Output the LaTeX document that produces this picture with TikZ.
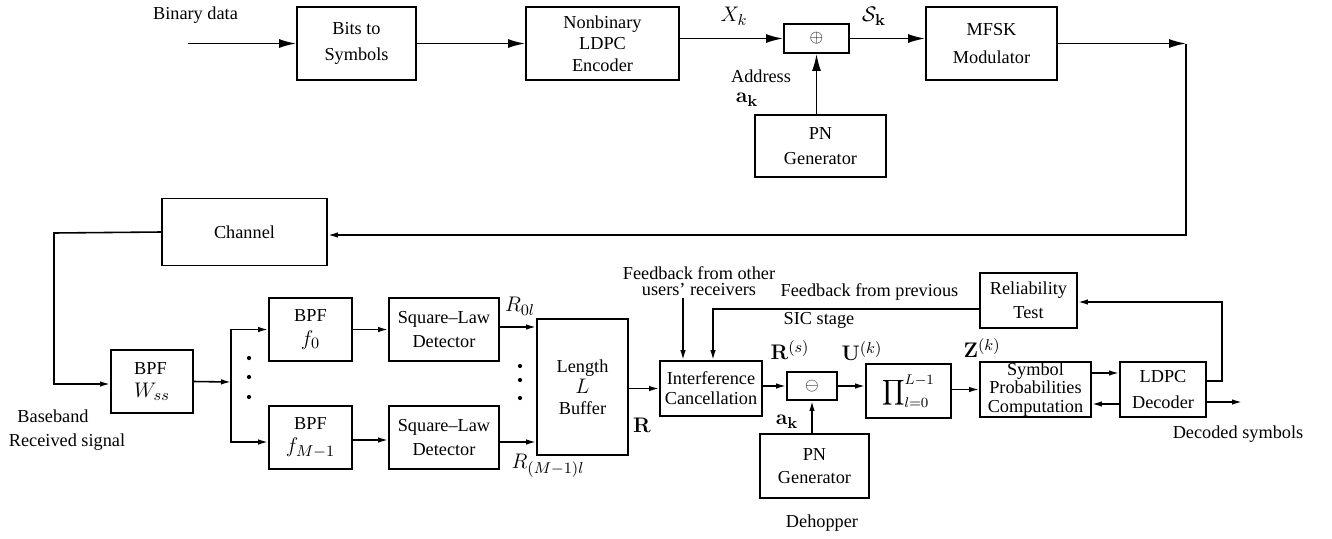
\documentclass[tikz,border=0pt]{standalone}
\usepackage[no-math]{fontspec}
\setmainfont{Liberation Serif}
\usetikzlibrary{arrows.meta}

\newcommand{\boxmath}[1]{{\fontsize{13}{13}\selectfont$#1$}}

\tikzset{
  blk/.style={draw, line width=1.1pt, align=center, inner sep=0pt,
    font=\fontsize{10.4}{13.5}\selectfont},
  arr/.style={line width=0.9pt, -{Latex[length=3.4mm,width=1.8mm]}},
  sarr/.style={line width=0.9pt, -{Latex[length=2mm,width=1.1mm]}},
  lbl/.style={font=\fontsize{10.4}{12}\selectfont, align=center, inner sep=1pt},
  mlbl/.style={font=\fontsize{12.5}{14}\selectfont, inner sep=0.5pt},
}

\begin{document}
\begin{tikzpicture}[x=0.02cm, y=-0.02cm]
  \useasboundingbox (0,0) rectangle (1332,538);

  % transmitter
  \node [blk, minimum width=2.38cm, minimum height=1.46cm, font=\fontsize{10.4}{14.5}\selectfont] (bits) at (356.5,43.5) {Bits to\\Symbols};
  \node [blk, minimum width=3.06cm, minimum height=1.46cm, font=\fontsize{10.4}{12.3}\selectfont] (enc) at (602.5,43.5) {Nonbinary\\LDPC\\Encoder};
  \node [blk, minimum width=1.3cm, minimum height=0.58cm] (add) at (816.5,38.5) {$\oplus$};
  \node [blk, minimum width=2.62cm, minimum height=1.46cm, font=\fontsize{10.4}{15.5}\selectfont] (mfsk) at (991.5,43.5) {MFSK\\Modulator};
  \node [blk, minimum width=2.62cm, minimum height=1.24cm, font=\fontsize{10.4}{14.5}\selectfont] (pntx) at (820.5,146) {PN\\Generator};

  \node [lbl] (bdata) at (195.5,15) {Binary data};
  \node [mlbl] (xk) at (734,16) {$X_k$};
  \node [mlbl] (sk) at (874,16) {$\mathcal{S}_{\mathbf{k}}$};
  \node [lbl] (addr) at (761,76) {Address};
  \node [mlbl] (akt) at (747,100) {$\mathbf{a_k}$};

  \coordinate (bin) at (188,43.5);
  \coordinate (tr) at (1186,43.5);
  \draw [arr] (bin) -- (bits);
  \draw [arr] (bits) -- (enc);
  \draw [arr] (enc.east |- add) -- (add.west);
  \draw [arr] (add.east) -- (add.east -| mfsk.west);
  \draw [arr] (pntx.north -| add) -- (add.south);
  \draw [arr] (mfsk) -- (tr);

  % channel
  \node [blk, minimum width=3.3cm, minimum height=1.34cm] (chan) at (244.5,232) {Channel};
  \draw [sarr] (tr) |- ([yshift=-0.06cm]chan.east);

  % receiver front end
  \node [blk, minimum width=1.64cm, minimum height=1.26cm, align=left] (wss) at (152,381.5) {BPF\\\boxmath{W_{ss}}};
  \node [blk, minimum width=1.66cm, minimum height=1.26cm] (f0) at (310.5,329.5) {BPF\\\boxmath{f_0}};
  \node [blk, minimum width=1.66cm, minimum height=1.26cm] (fm) at (310.5,437.5) {BPF\\\boxmath{f_{M-1}}};
  \node [blk, minimum width=2.2cm, minimum height=1.26cm] (sq0) at (444,329.5) {Square--Law\\Detector};
  \node [blk, minimum width=2.2cm, minimum height=1.26cm] (sqm) at (444,437.5) {Square--Law\\Detector};
  \node [blk, minimum width=1.82cm, minimum height=2.72cm, font=\fontsize{10.4}{12}\selectfont] (buf) at (582.5,387) {Length\\\boxmath{L}\\Buffer};

  \node [lbl] (bb) at (53,416) {Baseband};
  \node [lbl] (rsig) at (67,442) {Received signal};
  \node [mlbl] (r0) at (520,306) {$R_{0l}$};
  \node [mlbl] (rm) at (548,466) {$R_{(M-1)l}$};
  \node [mlbl] (rr) at (642,425) {$\mathbf{R}$};

  \coordinate (lft) at (54,233);
  \coordinate (sp) at (231,382);
  \draw [sarr] (chan.west) -- (lft) |- ([yshift=-0.05cm]wss.west);
  \draw [sarr] (wss.east) -- (sp);
  \draw [sarr] (sp) |- (f0.west);
  \draw [sarr] (sp) |- ([yshift=-0.09cm]fm.west);
  \draw [sarr] (f0) -- (sq0);
  \draw [sarr] ([yshift=-0.05cm]fm.east) -- ([yshift=-0.05cm]sqm.west);
  \draw [sarr] ([yshift=0.05cm]sq0.east) -- ([yshift=0.05cm]sq0.east -| buf.west);
  \draw [sarr] ([yshift=-0.09cm]sqm.east) -- ([yshift=-0.09cm]sqm.east -| buf.west);
  \foreach \yy in {358,377,397} \fill (249,\yy) circle (1.2pt);
  \foreach \yy in {366,380,398} \fill (520,\yy) circle (1.2pt);

  % SIC and decoding
  \node [blk, minimum width=2.04cm, minimum height=1.1cm, font=\fontsize{10.4}{11.4}\selectfont] (ic) at (711,388.5) {Interference\\Cancellation};
  \node [blk, minimum width=1cm, minimum height=0.56cm] (sub) at (812,386) {$\ominus$};
  \node [blk, minimum width=1.7cm, minimum height=1.08cm] (prod) at (908.5,391) {\fontsize{12}{12}\selectfont$\displaystyle\prod\nolimits_{l=0}^{L-1}$};
  \node [blk, minimum width=2.22cm, minimum height=1.1cm, font=\fontsize{10.4}{10.4}\selectfont] (spc) at (1035.5,389.5) {Symbol\\Probabilities\\Computation};
  \node [blk, minimum width=1.72cm, minimum height=1.1cm, font=\fontsize{10.4}{14.8}\selectfont] (ldpc) at (1163,389.5) {LDPC\\Decoder};
  \node [blk, minimum width=1.94cm, minimum height=1.1cm] (rel) at (1028.5,300.5) {Reliability\\Test};
  \node [blk, minimum width=2.18cm, minimum height=1.28cm] (pnrx) at (814.5,466) {PN\\Generator};

  \node [lbl, font=\fontsize{10.4}{9}\selectfont] (fbo) at (699,281) {Feedback from other\\users' receivers};
  \node [lbl] (fbp) at (869.5,292) {Feedback from previous};
  \node [lbl] (sic) at (819,320) {SIC stage};
  \node [mlbl] (rsup) at (790,350) {$\mathbf{R}^{(s)}$};
  \node [mlbl] (uk) at (862,351) {$\mathbf{U}^{(k)}$};
  \node [mlbl] (zk) at (982,348) {$\mathbf{Z}^{(k)}$};
  \node [mlbl] (akr) at (787,422) {$\mathbf{a_k}$};
  \node [lbl] (dh) at (822,523) {Dehopper};
  \node [lbl] (ds) at (1238,434) {Decoded symbols};

  \coordinate (fbotop) at (683,298);
  \coordinate (fbpc) at (713,309);
  \coordinate (relr) at (1222,381);
  \coordinate (dec) at (1242,402);
  \draw [sarr] (buf.east |- ic) -- (ic.west);
  \draw [sarr] (ic.east |- sub) -- (sub.west);
  \draw [sarr] (sub.east) -- (sub.east -| prod.west);
  \draw [sarr] (prod.east |- spc) -- (spc.west);
  \draw [sarr] ([yshift=0.33cm]spc.east) -- ([yshift=0.33cm]ldpc.west);
  \draw [sarr] ([yshift=-0.29cm]ldpc.west) -- ([yshift=-0.29cm]spc.east);
  \draw [sarr] ([yshift=-0.25cm]ldpc.east) -- (dec);
  \draw [sarr] ([yshift=0.17cm]ldpc.east) -- (relr) |- ([yshift=-0.03cm]rel.east);
  \draw [sarr] ([yshift=-0.17cm]rel.west) -- (fbpc) -- (fbpc |- ic.north);
  \draw [sarr] (fbotop) -- (fbotop |- ic.north);
  \draw [sarr] (pnrx.north -| sub) -- (sub.south);
\end{tikzpicture}
\end{document}
